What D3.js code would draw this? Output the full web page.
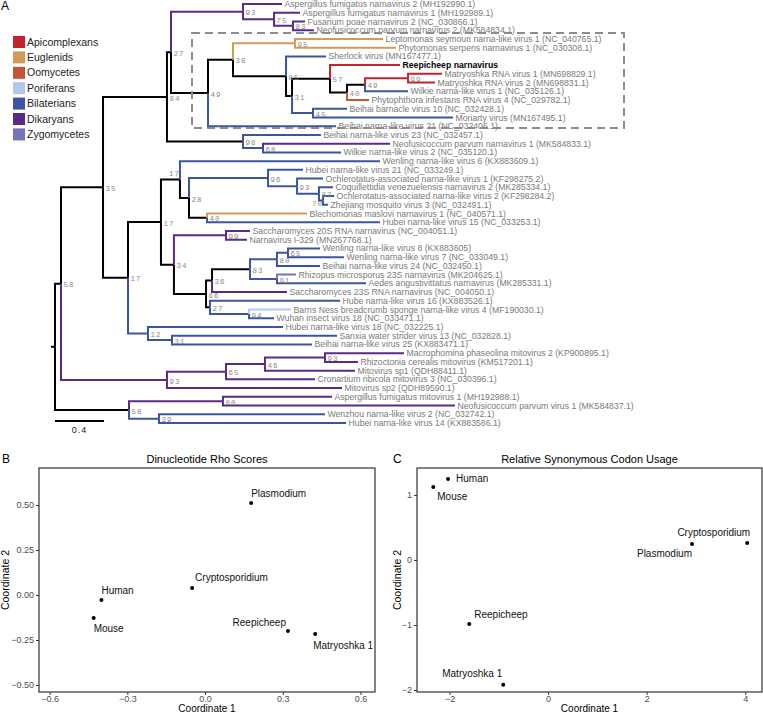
<!DOCTYPE html>
<html><head><meta charset="utf-8">
<script src="https://cdn.jsdelivr.net/npm/d3@7"></script>
<style>body{margin:0;background:#fff}svg{display:block}</style>
</head><body>
<svg id="c" width="763" height="716"></svg>
<script>
// ---------- DATA ----------
const groups = ["Apicomplexans","Euglenids","Oomycetes","Poriferans","Bilaterians","Dikaryans","Zygomycetes"];
const groupKeys = ["Api","Eug","Oom","Por","Bil","Dik","Zyg"];
const groupColors = ["#c4232e","#d39b5b","#c2553a","#b3c8ea","#3c55a0","#5b2a87","#7575b5"];

// internal nodes: [id, parent, depth (subst./site), bootstrap, clade]
const treeNodes = [
  ["root", null, 0, null, null],
  ["A","root",0.049,58,null], ["B","root",0.604,58,null],
  ["C","A",0.392,35,null], ["D","A",0.914,93,"Dik"],
  ["E","C",0.914,84,null], ["F","C",0.596,17,null],
  ["n27","E",0.947,27,null], ["n98","E",1.535,98,null],
  ["n93a","n27",1.535,93,"Dik"], ["n75","n93a",1.788,75,"Dik"], ["n83a","n75",1.943,83,"Dik"],
  ["n49","n27",1.249,49,null], ["n38","n49",1.453,38,null], ["n95","n38",1.959,95,"Eug"],
  ["n85","n38",1.886,85,null], ["n31a","n85",1.935,31,null], ["n57","n31a",2.245,57,null],
  ["n40a","n57",2.384,40,null], ["n49b","n40a",2.531,49,null], ["n99a","n49b",2.882,99,"Api"],
  ["n45","n31a",2.106,45,"Bil"], ["n68","n98",1.698,68,"Bil"],
  ["G","F",0.865,17,null], ["H","F",0.759,12,"Bil"],
  ["I","G",1.020,17,null], ["n28","I",1.094,28,null],
  ["n96","n28",1.739,96,"Bil"], ["n93b","n96",1.976,93,"Bil"], ["n87","n93b",2.155,87,"Bil"], ["n70","n87",2.188,70,"Bil"],
  ["n40b","n28",1.241,40,null],
  ["n34","G",0.971,34,null], ["n99b","n34",1.396,99,"Dik"], ["n66","n34",1.233,66,null],
  ["n36","n66",1.282,36,null], ["n83b","n36",1.592,83,null], ["n80b","n83b",1.812,80,"Bil"],
  ["n65b","n80b",1.902,65,"Bil"], ["n91","n83b",1.812,91,"Bil"],
  ["n27b","n66",1.265,27,null], ["n94","n27b",1.584,94,"Bil"],
  ["n31b","H",0.955,31,"Bil"],
  ["n65c","D",1.396,65,"Dik"], ["n46","n65c",1.714,46,"Dik"], ["n93c","n46",2.204,93,"Dik"],
  ["n80c","B",1.371,80,"Dik"], ["n39","B",0.849,39,"Bil"]
];

// tips, top to bottom: [label, parent, depth, clade]
const treeTips = [
  ["Aspergillus fumigatus narnavirus 2 (MH192990.1)","n93a",1.853,"Dik"],
  ["Aspergillus fumigatus narnavirus 1 (MH192989.1)","n75",2.000,"Dik"],
  ["Fusarium poae narnavirus 2 (NC_030866.1)","n83a",2.041,"Dik"],
  ["Neofusicoccum parvum narnavirus 2 (MK584834.1)","n83a",2.114,"Dik"],
  ["Leptomonas seymouri narna-like virus 1 (NC_040765.1)","n95",2.678,"Eug"],
  ["Phytomonas serpens narnavirus 1 (NC_030308.1)","n95",2.784,"Eug"],
  ["Sherlock virus (MN167477.1)","n85",2.212,"Bil"],
  ["Reepicheep narnavirus","n57",2.816,"Api"],
  ["Matryoshka RNA virus 1 (MN698829.1)","n99a",3.159,"Api"],
  ["Matryoshka RNA virus 2 (MN698831.1)","n99a",3.102,"Api"],
  ["Wilkie narna-like virus 1 (NC_035126.1)","n49b",2.882,"Bil"],
  ["Phytophthora infestans RNA virus 4 (NC_029782.1)","n40a",2.563,"Oom"],
  ["Beihai barnacle virus 10 (NC_032428.1)","n45",2.384,"Bil"],
  ["Moriarty virus (MN167495.1)","n45",3.249,"Bil"],
  ["Beihai narna-like virus 21 (NC_032406.1)","n49",2.294,"Bil"],
  ["Beihai narna-like virus 23 (NC_032457.1)","n98",2.171,"Bil"],
  ["Neofusicoccum parvum narnavirus 1 (MK584833.1)","n68",2.735,"Dik"],
  ["Wilkie narna-like virus 2 (NC_035120.1)","n68",2.335,"Bil"],
  ["Wenling narna-like virus 6 (KX883609.1)","I",2.653,"Bil"],
  ["Hubei narna-like virus 21 (NC_033249.1)","n96",2.024,"Bil"],
  ["Ochlerotatus-associated narna-like virus 1 (KF298275.2)","n93b",2.188,"Bil"],
  ["Coquillettidia venezuelensis narnavirus 2 (MK285334.1)","n87",2.269,"Bil"],
  ["Ochlerotatus-associated narna-like virus 2 (KF298284.2)","n70",2.278,"Bil"],
  ["Zhejiang mosquito virus 3 (NC_032491.1)","n70",2.229,"Bil"],
  ["Blechomonas maslovi narnavirus 1 (NC_040571.1)","n40b",2.057,"Eug"],
  ["Hubei narna-like virus 15 (NC_033253.1)","n40b",2.653,"Bil"],
  ["Saccharomyces 20S RNA narnavirus (NC_004051.1)","n99b",1.592,"Dik"],
  ["Narnavirus I-329 (MN267768.1)","n99b",1.567,"Dik"],
  ["Wenling narna-like virus 8 (KX883605)","n65b",2.163,"Bil"],
  ["Wenling narna-like virus 7 (NC_033049.1)","n65b",2.359,"Bil"],
  ["Beihai narna-like virus 24 (NC_032450.1)","n80b",2.163,"Bil"],
  ["Rhizopus microsporus 23S narnavirus (MK204625.1)","n91",1.967,"Zyg"],
  ["Aedes angustivittatus narnavirus (MK285331.1)","n91",2.539,"Bil"],
  ["Saccharomyces 23S RNA narnavirus (NC_004050.1)","n36",1.894,"Dik"],
  ["Hube narna-like virus 16 (KX883526.1)","n27b",2.327,"Bil"],
  ["Barns Ness breadcrumb sponge narna-like virus 4 (MF190030.1)","n94",1.927,"Por"],
  ["Wuhan insect virus 18 (NC_033471.1)","n94",1.788,"Bil"],
  ["Hubei narna-like virus 18 (NC_032225.1)","H",1.861,"Bil"],
  ["Sanxia water strider virus 13 (NC_032828.1)","n31b",2.302,"Bil"],
  ["Beihai narna-like virus 25 (KX883471.1)","n31b",2.098,"Bil"],
  ["Macrophomina phaseolina mitovirus 2 (KP900895.1)","n93c",2.849,"Dik"],
  ["Rhizoctonia cerealis mitovirus (KM517201.1)","n93c",2.473,"Dik"],
  ["Mitovirus sp1 (QDH88411.1)","n46",2.449,"Dik"],
  ["Cronartium ribicola mitovirus 3 (NC_030396.1)","n65c",2.122,"Dik"],
  ["Mitovirus sp2 (QDH89590.1)","D",2.343,"Dik"],
  ["Aspergillus fumigatus mitovirus 1 (MH192988.1)","n80c",2.261,"Dik"],
  ["Neofusicoccum parvum virus 1 (MK584837.1)","n80c",3.265,"Dik"],
  ["Wenzhou narna-like virus 2 (NC_032742.1)","n39",2.204,"Bil"],
  ["Hubei narna-like virus 14 (KX883586.1)","n39",2.376,"Bil"]
];
const highlightTip = "Reepicheep narnavirus";
const scaleBarLength = 0.4;

// Panel B: dinucleotide rho scores (MDS)
const rhoNames = ["Plasmodium","Cryptosporidium","Human","Mouse","Reepicheep","Matryoshka 1"];
const rhoX = [0.178, -0.05, -0.40, -0.43, 0.32, 0.425];
const rhoY = [0.511, 0.039, -0.028, -0.128, -0.20, -0.217];
const rhoXTicks = [-0.6, -0.3, 0, 0.3, 0.6];
const rhoYTicks = [-0.5, -0.25, 0, 0.25, 0.5];

// Panel C: RSCU (MDS)
const rscuNames = ["Human","Mouse","Cryptosporidium","Plasmodium","Reepicheep","Matryoshka 1"];
const rscuX = [-2.03, -2.33, 4.04, 2.92, -1.60, -0.91];
const rscuY = [1.246, 1.123, 0.26, 0.245, -0.985, -1.92];
const rscuXTicks = [-2, 0, 2, 4];
const rscuYTicks = [-2, -1, 0, 1];

// ---------- DRAW ----------
const svg = d3.select("#c");
const FONT = "'Liberation Sans', Arial, Helvetica, sans-serif";
const colorOf = k => k ? groupColors[groupKeys.indexOf(k)] : "#000";

// Tree
const rows = treeNodes.map(d => ({id:d[0], parent:d[1], depth:d[2], boot:d[3], clade:d[4], tip:false}))
  .concat(treeTips.map((d,i) => ({id:d[0], parent:d[1], depth:d[2], clade:d[3], tip:true, order:i})));
const root = d3.stratify().id(d => d.id).parentId(d => d.parent)(rows);
const tx = d3.scaleLinear().domain([0, scaleBarLength]).range([55, 104]);
const ty = d3.scaleLinear().domain([0, treeTips.length - 1]).range([4, 423]);
root.eachAfter(n => {
  n.px = tx(n.data.depth);
  if (!n.children) n.py = ty(n.data.order);
  else { const ys = n.children.map(c => c.py); n.py = (d3.min(ys) + d3.max(ys)) / 2; }
});

const gT = svg.append("g");
gT.append("line").attr("x1", root.px - 4).attr("x2", root.px).attr("y1", root.py).attr("y2", root.py)
  .attr("stroke", "#000").attr("stroke-width", 2);
gT.selectAll("path.edge").data(root.descendants().filter(d => d.parent))
  .join("path").attr("class","edge")
  .attr("d", d => `M${d.parent.px},${d.parent.py}V${d.py}H${d.px}`)
  .attr("fill","none").attr("stroke", d => colorOf(d.data.clade))
  .attr("stroke-width", 2).attr("stroke-linejoin","miter");

gT.selectAll("text.tip").data(root.leaves()).join("text").attr("class","tip")
  .attr("x", d => d.px + 2.5).attr("y", d => d.py).attr("dy","0.35em")
  .attr("font-family", FONT).attr("font-size", 8.7)
  .attr("fill", d => d.data.id === highlightTip ? "#000" : "#7a7a7a")
  .attr("font-weight", d => d.data.id === highlightTip ? "bold" : "normal")
  .text(d => d.data.id);

const bootNudge = {I:[-11,-6.5], n70:[-11,2.6]};
gT.selectAll("text.boot").data(root.descendants().filter(d => d.children && d.data.boot != null))
  .join("text").attr("class","boot")
  .attr("x", d => d.px + (bootNudge[d.data.id] ? bootNudge[d.data.id][0] : 2.5))
  .attr("y", d => d.py + (bootNudge[d.data.id] ? bootNudge[d.data.id][1] : 1))
  .attr("dy","0.35em")
  .attr("font-family", "'Liberation Mono','DejaVu Sans Mono',monospace").attr("font-size", 7.5)
  .attr("letter-spacing", 1).attr("fill", "#8a8a8a")
  .text(d => d.data.boot);

gT.append("rect").attr("x",192).attr("y",33).attr("width",432).attr("height",95)
  .attr("fill","none").attr("stroke","#8c8c8c").attr("stroke-width",2).attr("stroke-dasharray","8,5");

gT.append("line").attr("x1", tx(0)).attr("x2", tx(scaleBarLength)).attr("y1", 421).attr("y2", 421)
  .attr("stroke","#000").attr("stroke-width",2);
gT.append("text").attr("x",(tx(0)+tx(scaleBarLength))/2).attr("y",433).attr("text-anchor","middle")
  .attr("font-family", FONT).attr("font-size",9).attr("letter-spacing",1).attr("fill","#222").text(scaleBarLength);

const gL = svg.append("g");
groups.forEach((g,i) => {
  gL.append("rect").attr("x",13).attr("y",36 + i*15.4).attr("width",12).attr("height",12).attr("fill",groupColors[i]);
  gL.append("text").attr("x",27).attr("y",42 + i*15.4).attr("dy","0.35em").attr("font-family",FONT)
    .attr("font-size",10.5).attr("fill","#222").text(g);
});

[["A",1,10],["B",2,463],["C",393,463]].forEach(([t,x,y]) =>
  svg.append("text").attr("x",x).attr("y",y).attr("font-family",FONT).attr("font-size",12).attr("fill","#000").text(t));

function scatter(o) {
  const g = svg.append("g");
  const x = d3.scaleLinear().domain(o.xDom).range([o.x0, o.x1]);
  const y = d3.scaleLinear().domain(o.yDom).range([o.y1, o.y0]);
  const fmt = f => v => d3.format(f)(v).replace("-", "\u2212");
  const ax = g.append("g").attr("transform",`translate(0,${o.y1})`)
    .call(d3.axisBottom(x).tickValues(o.xTicks).tickFormat(fmt(o.xFmt)).tickSize(3).tickPadding(1));
  const ay = g.append("g").attr("transform",`translate(${o.x0},0)`)
    .call(d3.axisLeft(y).tickValues(o.yTicks).tickFormat(fmt(o.yFmt)).tickSize(3).tickPadding(2));
  [ax, ay].forEach(a => {
    a.select(".domain").remove();
    a.selectAll(".tick line").attr("stroke","#333");
    a.selectAll(".tick text").attr("font-family",FONT).attr("font-size",9).attr("fill","#4d4d4d");
  });
  g.append("rect").attr("x",o.x0).attr("y",o.y0).attr("width",o.x1-o.x0).attr("height",o.y1-o.y0)
    .attr("fill","none").attr("stroke","#333").attr("stroke-width",1.2);
  g.append("text").attr("x",(o.x0+o.x1)/2).attr("y",463).attr("text-anchor","middle")
    .attr("font-family",FONT).attr("font-size",11).attr("fill","#000").text(o.title);
  g.append("text").attr("x",(o.x0+o.x1)/2).attr("y",712).attr("text-anchor","middle")
    .attr("font-family",FONT).attr("font-size",10).attr("fill","#000").text("Coordinate 1");
  g.append("text").attr("transform",`translate(${o.ylabX},${(o.y0+o.y1)/2}) rotate(-90)`).attr("text-anchor","middle")
    .attr("font-family",FONT).attr("font-size",10.5).attr("fill","#000").text("Coordinate 2");
  const pts = o.names.map((n,i) => ({n, x:o.xs[i], y:o.ys[i]}));
  g.selectAll("circle").data(pts).join("circle").attr("cx",d=>x(d.x)).attr("cy",d=>y(d.y)).attr("r",2).attr("fill","#000");
  g.selectAll("text.pl").data(pts).join("text").attr("class","pl")
    .attr("x", d => x(d.x) + o.lab[d.n][1]).attr("y", d => y(d.y) + o.lab[d.n][2]).attr("dy","0.35em")
    .attr("text-anchor", d => o.lab[d.n][0])
    .attr("font-family",FONT).attr("font-size",10).attr("fill","#111").text(d => d.n);
}

scatter({x0:39, x1:375, y0:468, y1:692, xDom:[-0.641,0.656], yDom:[-0.539,0.706],
  xTicks:rhoXTicks, yTicks:rhoYTicks, xFmt:".1f", yFmt:".2f", title:"Dinucleotide Rho Scores", ylabX:9,
  names:rhoNames, xs:rhoX, ys:rhoY,
  lab:{"Plasmodium":["start",0,-10],"Cryptosporidium":["start",3,-11],"Human":["start",0,-10],
       "Mouse":["start",0,10],"Reepicheep":["end",-2,-9],"Matryoshka 1":["start",-2,11]}});

scatter({x0:417, x1:762, y0:468, y1:692, xDom:[-2.66,4.34], yDom:[-2.031,1.415],
  xTicks:rscuXTicks, yTicks:rscuYTicks, xFmt:"d", yFmt:"d", title:"Relative Synonymous Codon Usage", ylabX:401,
  names:rscuNames, xs:rscuX, ys:rscuY,
  lab:{"Human":["start",8,0],"Mouse":["start",4,10],"Cryptosporidium":["end",3,-11],
       "Plasmodium":["end",0,9],"Reepicheep":["start",5,-10],"Matryoshka 1":["end",-1,-11]}});
</script>
</body></html>
